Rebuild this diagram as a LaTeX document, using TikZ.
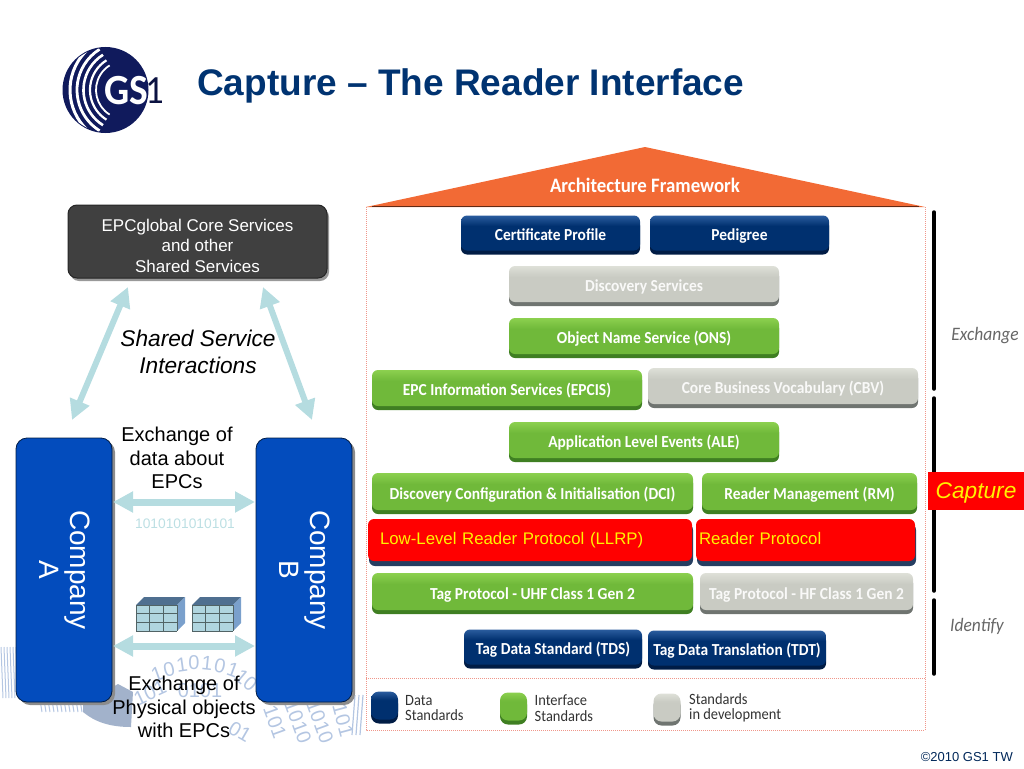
\documentclass[tikz,border=0pt]{standalone}
\usepackage{fontspec}
\setmainfont{Liberation Sans}
\newfontfamily\boxfont[FakeStretch=0.92]{Carlito}
\usetikzlibrary{arrows.meta,shadows,calc}

\definecolor{navy}{HTML}{00306F}
\definecolor{navylight}{HTML}{2A5C9E}
\definecolor{navydark}{HTML}{001C45}
\definecolor{leaf}{HTML}{70B93A}
\definecolor{leaflight}{HTML}{8CD04F}
\definecolor{leafdark}{HTML}{3F7F22}
\definecolor{stone}{HTML}{C9CBC3}
\definecolor{stonelight}{HTML}{DEE0D8}
\definecolor{stonedark}{HTML}{6F7470}
\definecolor{titleblue}{HTML}{003371}
\definecolor{companyblue}{HTML}{034CBD}
\definecolor{linkblue}{HTML}{B5DCE0}
\definecolor{roof}{HTML}{F26A35}
\definecolor{binblue}{HTML}{B4C6E2}
\definecolor{frameline}{HTML}{F0968A}
\definecolor{logonavy}{HTML}{101A5C}
\definecolor{cubefront}{HTML}{B0D5DF}
\definecolor{cubetop}{HTML}{4F6F90}
\definecolor{cubeside}{HTML}{7AA0CC}

\pgfdeclareverticalshading{navyshade}{100bp}{color(0bp)=(navy); color(60bp)=(navy); color(75bp)=(navylight); color(100bp)=(navylight)}
\pgfdeclareverticalshading{leafshade}{100bp}{color(0bp)=(leaf); color(60bp)=(leaf); color(75bp)=(leaflight); color(100bp)=(leaflight)}
\pgfdeclareverticalshading{stoneshade}{100bp}{color(0bp)=(stone); color(60bp)=(stone); color(75bp)=(stonelight); color(100bp)=(stonelight)}

\tikzset{
  layerbox/.style={rounded corners=6pt, inner sep=0pt, text=white, align=center, shade,
    text height=15pt, text depth=0pt,
    font=\boxfont\bfseries\fontsize{16.8}{18}\selectfont},
  navybox/.style={layerbox, shading=navyshade,
    drop shadow={shadow xshift=0pt, shadow yshift=-4pt, fill=navydark, opacity=1}},
  leafbox/.style={layerbox, shading=leafshade,
    drop shadow={shadow xshift=0pt, shadow yshift=-4pt, fill=leafdark, opacity=1}},
  stonebox/.style={layerbox, text=white!88!stone, shading=stoneshade,
    drop shadow={shadow xshift=0pt, shadow yshift=-4pt, fill=stonedark, opacity=1}},
  redbox/.style={rounded corners=6pt, inner ysep=0pt, fill=red, text=yellow, align=left,
    text height=12pt, text depth=4pt,
    font=\fontsize{16.8}{18}\selectfont,
    drop shadow={shadow xshift=1pt, shadow yshift=-5pt, fill=navydark!85, opacity=1}},
  swatch/.style={rounded corners=8pt, minimum width=27pt, minimum height=28pt, inner sep=0pt},
  legendtext/.style={anchor=west, align=left, inner sep=0pt, text=black!80,
    font=\boxfont\fontsize{15.7}{15.5}\selectfont},
  companybox/.style={draw=navydark, line width=0.8pt, fill=companyblue, rounded corners=11pt,
    minimum width=96pt, minimum height=264pt,
    drop shadow={shadow xshift=3pt, shadow yshift=-3pt, fill=black!45, opacity=1}},
  companytext/.style={rotate=-90, text=white, align=center, font=\fontsize{28}{31}\selectfont},
  caption/.style={align=center, font=\fontsize{20}{23.7}\selectfont},
  linkarrow/.style={draw=linkblue, line width=7pt,
    {Triangle[width=20pt,length=20pt]}-{Triangle[width=20pt,length=20pt]}},
  stageline/.style={draw=black, line width=3.5pt, line cap=round},
  stagetext/.style={text=black!60, font=\boxfont\itshape\fontsize{19}{22}\selectfont},
  framedot/.style={draw=frameline, line width=1pt, densely dotted},
  bindigit/.style={text=binblue, font=\fontsize{20}{20}\selectfont, inner sep=0pt}
}

\begin{document}
\begin{tikzpicture}[x=1pt,y=-1pt]
\useasboundingbox (0,0) rectangle (1024,768);

% Binary pattern
\foreach \px in {1,4,...,16} \draw[binblue, line width=1pt] (\px,647) -- (\px+2,698);
\foreach \px in {40,44,...,80} \draw[binblue, line width=1pt] (\px,700) -- (\px+2,712);
\fill[binblue!90!black] (83,704) -- (118,684) -- (133,692) -- (131,727) .. controls (110,727) and (95,722) .. (83,712) -- cycle;
\foreach \bx/\by in {90,706,100,704,110,704,120,704,96,713,108,713,120,713,112,720,123,720}
  \fill[white] (\bx,\by) rectangle (\bx+4,\by+3);
\foreach \dx/\dy/\dr/\dt [count=\i] in {
  157/674/20/1,169/669/14/0,182/665/8/1,194/663/0/0,207/663/-6/1,220/666/-12/0,233/670/-20/1,
  150/693/25/101,200/691/0/0101,246/680/-40/10,240/732/-30/01,
  275/722/-70/101,298/722/-70/1010,320/722/-70/1010,343/720/-75/101}
  \node[bindigit, rotate=\dr] (bin\i) at (\dx,\dy) {\dt};
\foreach \px in {355,359,363} \draw[binblue, line width=1.2pt] (\px,695) -- (\px-3,735);

% Logo
\fill[logonavy] (105.5,90) circle (43);
\begin{scope}
  \clip (105.5,90) circle (42);
  \foreach \rr/\ww in {55/3,48/2.8,41.5/2.6,35/2.2,29/1.8}
    \draw[white, line width=\ww pt] ($(125,90)+(122:\rr)$) arc (122:238:\rr);
\end{scope}
\node[text=white, inner sep=0pt, font=\boxfont\bfseries\fontsize{43}{43}\selectfont] (logogs) at (126,91) {GS};
\node[text=logonavy!70!black, inner sep=0pt, font=\boxfont\fontsize{40}{40}\selectfont] (logoone) at (155,91) {1};

% Title
\node[anchor=base west, inner sep=0pt, text=titleblue, font=\bfseries\fontsize{37}{40}\selectfont]
  (title) at (197,95) {Capture – The Reader Interface};
\node[anchor=base east, inner sep=0pt, text=navy!80!black, font=\fontsize{13}{15}\selectfont]
  (copyright) at (1013,761) {©2010 GS1 TW};

% Shared services
\node[draw=black!85, line width=1pt, fill=black!75, rounded corners=9pt,
  minimum width=259pt, minimum height=73pt, inner sep=0pt,
  drop shadow={shadow xshift=2pt, shadow yshift=-3pt, fill=black!40, opacity=1}]
  (services) at (197.5,241.5) {};
\node[text=white, inner sep=0pt, align=center, font=\fontsize{17}{20.5}\selectfont]
  (servicestext) at (197.5,245.5) {EPCglobal Core Services\\and other\\Shared Services};
\node[align=center, inner sep=0pt, font=\itshape\fontsize{22.7}{27.5}\selectfont]
  (interactions) at (198,352) {Shared Service\\Interactions};

% Companies
\node[companybox] (companyA) at (64,570) {};
\node[companybox] (companyB) at (304,570) {};
\node[companytext] (labelA) at ([xshift=1pt]companyA.center) {Company\\A};
\node[companytext] (labelB) at ([xshift=1pt]companyB.center) {Company\\B};

\coordinate (sharedAtop) at (128,287);
\coordinate (sharedAbot) at (72,420);
\coordinate (sharedBtop) at (263,287);
\coordinate (sharedBbot) at (312,420);
\coordinate (dataleft) at (113,502);
\coordinate (dataright) at (255,502);
\coordinate (objleft) at (113,646);
\coordinate (objright) at (255,646);

\draw[linkarrow, line width=6pt] (sharedAtop) -- (sharedAbot);
\draw[linkarrow, line width=6pt] (sharedBtop) -- (sharedBbot);
\draw[linkarrow] (dataleft) -- (dataright);
\draw[linkarrow] (objleft) -- (objright);

\node[caption, inner sep=0pt] (dataexchange) at (177,458) {Exchange of\\data about\\EPCs};
\node[inner sep=0pt, text=linkblue!90!white, font=\fontsize{13.8}{15}\selectfont] (bits) at (185,524) {1010101010101};
\node[caption, inner sep=0pt] (objexchange) at (184,707) {Exchange of\\Physical objects\\with EPCs};

% Data cubes
\foreach \cx in {136,192} {
  \fill[cubefront] (\cx,605) rectangle (\cx+41,631);
  \fill[cubetop] (\cx,605) -- (\cx+8,597) -- (\cx+49,597) -- (\cx+41,605) -- cycle;
  \fill[cubeside] (\cx+41,605) -- (\cx+49,597) -- (\cx+49,623) -- (\cx+41,631) -- cycle;
  \foreach \gy in {605,613.5,622,631} \draw[black!55!linkblue, line width=0.5pt] (\cx,\gy) -- (\cx+41,\gy);
  \foreach \gx in {0,13.7,27.3,41} \draw[black!55!linkblue, line width=0.5pt] (\cx+\gx,605) -- (\cx+\gx,631);
}

% Architecture frame
\draw[framedot] (366,207) -- (366,730) -- (925,730) -- (925,207);
\draw[framedot] (366,678) -- (925,678);
\fill[roof] (366,207) -- (645,147) -- (925,207) -- cycle;
\draw[black!60!roof, line width=1.5pt] (372,206.5) -- (919,206.5);
\node[text=white, font=\boxfont\bfseries\fontsize{20.5}{22}\selectfont, inner sep=0pt] (framework) at (645,185) {Architecture Framework};

% Layers
\node[navybox, minimum width=179pt, minimum height=35pt] (certificate) at (550.5,233) {Certificate Profile};
\node[navybox, minimum width=179pt, minimum height=35pt] (pedigree) at (739.5,233) {Pedigree};
\node[stonebox, minimum width=270pt, minimum height=36pt] (discovery) at (644,284) {Discovery Services};
\node[leafbox, minimum width=270pt, minimum height=36pt] (ons) at (644,336) {Object Name Service (ONS)};
\node[leafbox, minimum width=270pt, minimum height=36pt] (epcis) at (507,388) {EPC Information Services (EPCIS)};
\node[stonebox, minimum width=270pt, minimum height=36pt] (cbv) at (783,386) {Core Business Vocabulary (CBV)};
\node[leafbox, minimum width=270pt, minimum height=36pt] (ale) at (644,440) {Application Level Events (ALE)};
\node[leafbox, minimum width=321pt, minimum height=37pt] (dci) at (532.5,491.5) {Discovery Configuration \& Initialisation (DCI)};
\node[leafbox, minimum width=215pt, minimum height=37pt] (rm) at (809.5,491.5) {Reader Management (RM)};
\node[redbox, inner xsep=12pt, text width=300pt, minimum height=42pt] (llrp) at (530,540) {Low-Level Reader Protocol (LLRP)};
\node[redbox, inner xsep=3pt, text width=213pt, minimum height=42pt] (readerprotocol) at (805.5,540) {Reader Protocol};
\node[leafbox, minimum width=321pt, minimum height=37pt] (uhf) at (532.5,591.5) {Tag Protocol - UHF Class 1 Gen 2};
\node[stonebox, minimum width=213pt, minimum height=37pt] (hf) at (806.5,591.5) {Tag Protocol - HF Class 1 Gen 2};
\node[navybox, minimum width=178pt, minimum height=35pt] (tds) at (553,647) {Tag Data Standard (TDS)};
\node[navybox, minimum width=178pt, minimum height=35pt] (tdt) at (737,648) {Tag Data Translation (TDT)};

% Legend
\node[navybox, swatch] (swatchnavy) at (384.5,705.5) {};
\node[leafbox, swatch] (swatchleaf) at (513.5,706.5) {};
\node[stonebox, swatch] (swatchstone) at (667,707.5) {};
\node[legendtext] (legendnavy) at (405,708) {Data\\Standards};
\node[legendtext] (legendleaf) at (534.5,708) {Interface\\Standards};
\node[legendtext] (legendstone) at (689,708) {Standards\\in development};

% Stages
\draw[stageline] (934,212) -- (934,389);
\draw[stageline] (934,398) -- (934,591);
\draw[stageline] (934,600) -- (934,674);
\node[stagetext] (exchange) at (985,336) {Exchange};
\node[stagetext] (identify) at (977,626) {Identify};
\node[fill=red, text=yellow, minimum width=96pt, minimum height=38pt, inner sep=0pt,
  text height=15pt, text depth=0pt,
  font=\itshape\fontsize{22.7}{24}\selectfont] (capture) at (976,491) {Capture};

\end{tikzpicture}
\end{document}
